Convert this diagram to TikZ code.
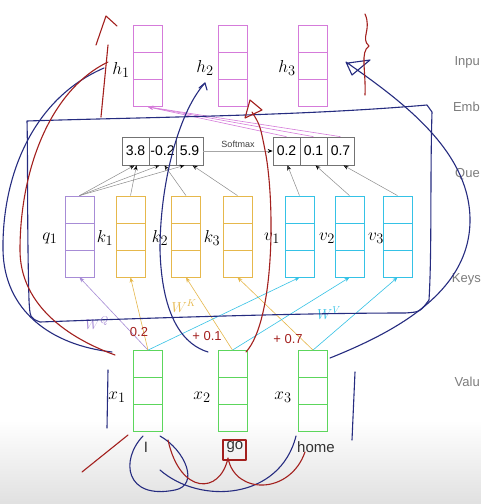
\documentclass[tikz,border=0pt]{standalone}
\usepackage{fontspec}
\setmainfont{Liberation Sans}
\setsansfont{Liberation Sans}
\usetikzlibrary{arrows.meta}

\definecolor{hcol}{HTML}{D57BDA}
\definecolor{qcol}{HTML}{A78CD6}
\definecolor{kcol}{HTML}{E6B84C}
\definecolor{vcol}{HTML}{35C2E6}
\definecolor{xcol}{HTML}{5CD65C}
\definecolor{penblue}{HTML}{262C80}
\definecolor{penred}{HTML}{A3201E}
\definecolor{labgray}{HTML}{7C7C7C}

\begin{document}
\begin{tikzpicture}[x=1pt,y=-1pt,>={Stealth[length=5pt,width=4pt]},font=\sffamily,
  vec/.style={draw=#1,line width=0.8pt,minimum width=29pt,minimum height=81pt,inner sep=0pt,
    path picture={\draw[#1,line width=0.8pt]
      ([yshift=-27pt]path picture bounding box.north west) -- ([yshift=-27pt]path picture bounding box.north east)
      ([yshift=27pt]path picture bounding box.south west) -- ([yshift=27pt]path picture bounding box.south east);}},
  cell/.style={draw=black!55,line width=0.7pt,minimum width=27pt,minimum height=28pt,inner sep=0pt,
    font=\sffamily\fontsize{14}{16}\selectfont},
  lab/.style={font=\fontsize{19}{22}\selectfont},
  side/.style={anchor=east,text=labgray,inner sep=0pt,font=\sffamily\fontsize{13}{15}\selectfont},
  wlab/.style={font=\fontsize{14}{16}\selectfont},
  score/.style={-{Stealth[length=5pt,width=4pt,black]},black!45,line width=0.5pt},
  pen/.style={line width=1.1pt,line cap=round,line join=round},
  nums/.style={text=penred,font=\sffamily\fontsize{13}{15}\selectfont}]
  \clip (0,0) rectangle (481,504);
  \useasboundingbox (0,0) rectangle (481,504);
  \fill[white] (0,0) rectangle (481,504);
  \shade[top color=white,bottom color=black!12] (0,420) rectangle (481,504);

  % outputs
  \node[vec=hcol] (h1) at (148,66) {};
  \node[vec=hcol] (h2) at (232.5,66) {};
  \node[vec=hcol] (h3) at (312.5,66) {};
  \node[lab] (lh1) at (121,70) {$h_1$};
  \node[lab] (lh2) at (205,68) {$h_2$};
  \node[lab] (lh3) at (287,68) {$h_3$};

  % scores and softmax
  \node[cell] (s1) at (135.5,151) {3.8};
  \node[cell] (s2) at (162.5,151) {-0.2};
  \node[cell] (s3) at (189.5,151) {5.9};
  \node[cell] (p1) at (286.5,151) {0.2};
  \node[cell] (p2) at (313.5,151) {0.1};
  \node[cell] (p3) at (340.5,151) {0.7};
  \draw[score,black!35,line width=0.6pt] (s3) -- node[above,text=black!75,font=\sffamily\fontsize{9}{11}\selectfont] {Softmax} (p1);

  % queries, keys, values
  \node[vec=qcol] (q1) at (79.5,236.5) {};
  \node[vec=kcol] (k1) at (130.5,236.5) {};
  \node[vec=kcol] (k2) at (186,236.5) {};
  \node[vec=kcol] (k3) at (237.5,236.5) {};
  \node[vec=vcol] (v1) at (299.5,236.5) {};
  \node[vec=vcol] (v2) at (349.5,236.5) {};
  \node[vec=vcol] (v3) at (397.5,236.5) {};
  \node[lab] (lq1) at (50,238) {$q_1$};
  \node[lab] (lk1) at (105,238) {$k_1$};
  \node[lab] (lk2) at (160,238) {$k_2$};
  \node[lab] (lk3) at (212,238) {$k_3$};
  \node[lab] (lv1) at (272,238) {$v_1$};
  \node[lab] (lv2) at (327,238) {$v_2$};
  \node[lab] (lv3) at (376,238) {$v_3$};

  % inputs
  \node[vec=xcol] (x1) at (148,391) {};
  \node[vec=xcol] (x2) at (232.5,391) {};
  \node[vec=xcol] (x3) at (313,391) {};
  \node[lab] (lx1) at (117,397) {$x_1$};
  \node[lab] (lx2) at (202,397) {$x_2$};
  \node[lab] (lx3) at (283,397) {$x_3$};
  \node[font=\sffamily\fontsize{15}{18}\selectfont,text=black!80] (w1) at (146,447) {I};
  \node[font=\sffamily\fontsize{15}{18}\selectfont,text=black!80] (w2) at (235,447) {go};
  \node[font=\sffamily\fontsize{15}{18}\selectfont,text=black!80] (w3) at (316,447) {home};

  % row names (cut at the slide edge)
  \node[side] (tin) at (480,62) {Inpu};
  \node[side] (tem) at (480,107) {Emb};
  \node[side] (tqu) at (480,174) {Que};
  \node[side] (tke) at (481,279) {Keys};
  \node[side] (tva) at (480,382) {Valu};

  % projections
  \draw[->,qcol,line width=0.6pt] (x1.north) -- (q1.south);
  \draw[->,kcol,line width=0.6pt] (x1.north) -- (k1.south);
  \draw[->,kcol,line width=0.6pt] (x2.north) -- (k2.south);
  \draw[->,kcol,line width=0.6pt] (x3.north) -- (k3.south);
  \draw[->,vcol,line width=0.6pt] (x1.north) -- (v1.south);
  \draw[->,vcol,line width=0.6pt] (x2.north) -- (v2.south);
  \draw[->,vcol,line width=0.6pt] (x3.north) -- (v3.south);
  \node[wlab,text=qcol] (wq) at (97,323) {$W^Q$};
  \node[wlab,text=kcol] (wk) at (184,306) {$W^K$};
  \node[wlab,text=vcol] (wv) at (329,313) {$W^V$};

  % dot products
  \path[score]
    (q1.north) edge ([xshift=-1pt]s1.south)
    (q1.north) edge ([xshift=-3pt]s2.south)
    (q1.north) edge ([xshift=-5pt]s3.south)
    (k1.north) edge ([xshift=1pt]s1.south)
    (k2.north) edge ([xshift=2pt]s2.south)
    (k3.north) edge ([xshift=3pt]s3.south)
    (v1.north) edge ([xshift=1pt]p1.south)
    (v2.north) edge ([xshift=2pt]p2.south)
    (v3.north) edge ([xshift=3pt]p3.south);

  % weighted sum
  \path[->,hcol,line width=0.6pt]
    (p1.north) edge (h1.south)
    (p2.north) edge (h1.south)
    (p3.north) edge (h1.south);

  % pen marks
  \draw[pen,penblue] (27,121) .. controls (150,117) and (300,116) .. (427,105) -- (432,112)
    .. controls (430,180) and (432,250) .. (429,300) .. controls (420,312) .. (405,313)
    .. controls (300,313) and (150,318) .. (40,322) .. controls (30,318) .. (29,300)
    .. controls (27,230) and (28,160) .. (27,121);
  \draw[pen,penblue] (104,68) .. controls (30,100) and (2,180) .. (3,250)
    .. controls (4,310) and (50,345) .. (112,352);
  \draw[pen,penblue] (205,83) .. controls (180,110) and (160,180) .. (160,250)
    .. controls (162,320) and (185,345) .. (208,352);
  \draw[pen,penblue] (199,88) -- (205,83) -- (207,90);
  \draw[pen,penblue] (348,63) -- (370,60) -- (352,75) -- (346,62)
    .. controls (400,100) and (470,150) .. (470,220)
    .. controls (470,290) and (400,330) .. (330,358);
  \draw[pen,penblue] (108,370) -- (107,428);
  \draw[pen,penblue] (355,372) -- (352,440);
  \draw[pen,penblue] (143,436) .. controls (120,460) and (125,500) .. (175,490)
    .. controls (200,485) and (185,450) .. (160,436);
  \draw[pen,penblue] (160,470) .. controls (200,505) and (280,500) .. (296,436);

  \draw[pen,penred] (101,117) -- (108,45);
  \draw[pen,penred] (96,45) -- (106,16) -- (117,26);
  \draw[pen,penred] (108,62) .. controls (50,90) and (20,170) .. (20,250)
    .. controls (20,300) and (60,335) .. (115,355);
  \draw[pen,penred] (246,352) .. controls (275,320) and (275,200) .. (265,150)
    .. controls (260,125) .. (252,112);
  \draw[pen,penred] (245,118) -- (250,100) -- (262,110) -- cycle;
  \draw[pen,penred] (365,14) .. controls (372,30) and (360,38) .. (369,46)
    .. controls (360,52) and (366,70) .. (365,95);
  \draw[pen,penred] (82,472) -- (128,435);
  \draw[pen,penred] (223,440) rectangle (246,460);
  \draw[pen,penred] (168,440) .. controls (180,495) and (220,495) .. (228,458)
    .. controls (235,495) and (290,495) .. (305,452);
  \node[nums] (n1) at (139,332) {0.2};
  \node[nums] (n2) at (207,336) {+ 0.1};
  \node[nums] (n3) at (288,339) {+ 0.7};
\end{tikzpicture}
\end{document}
